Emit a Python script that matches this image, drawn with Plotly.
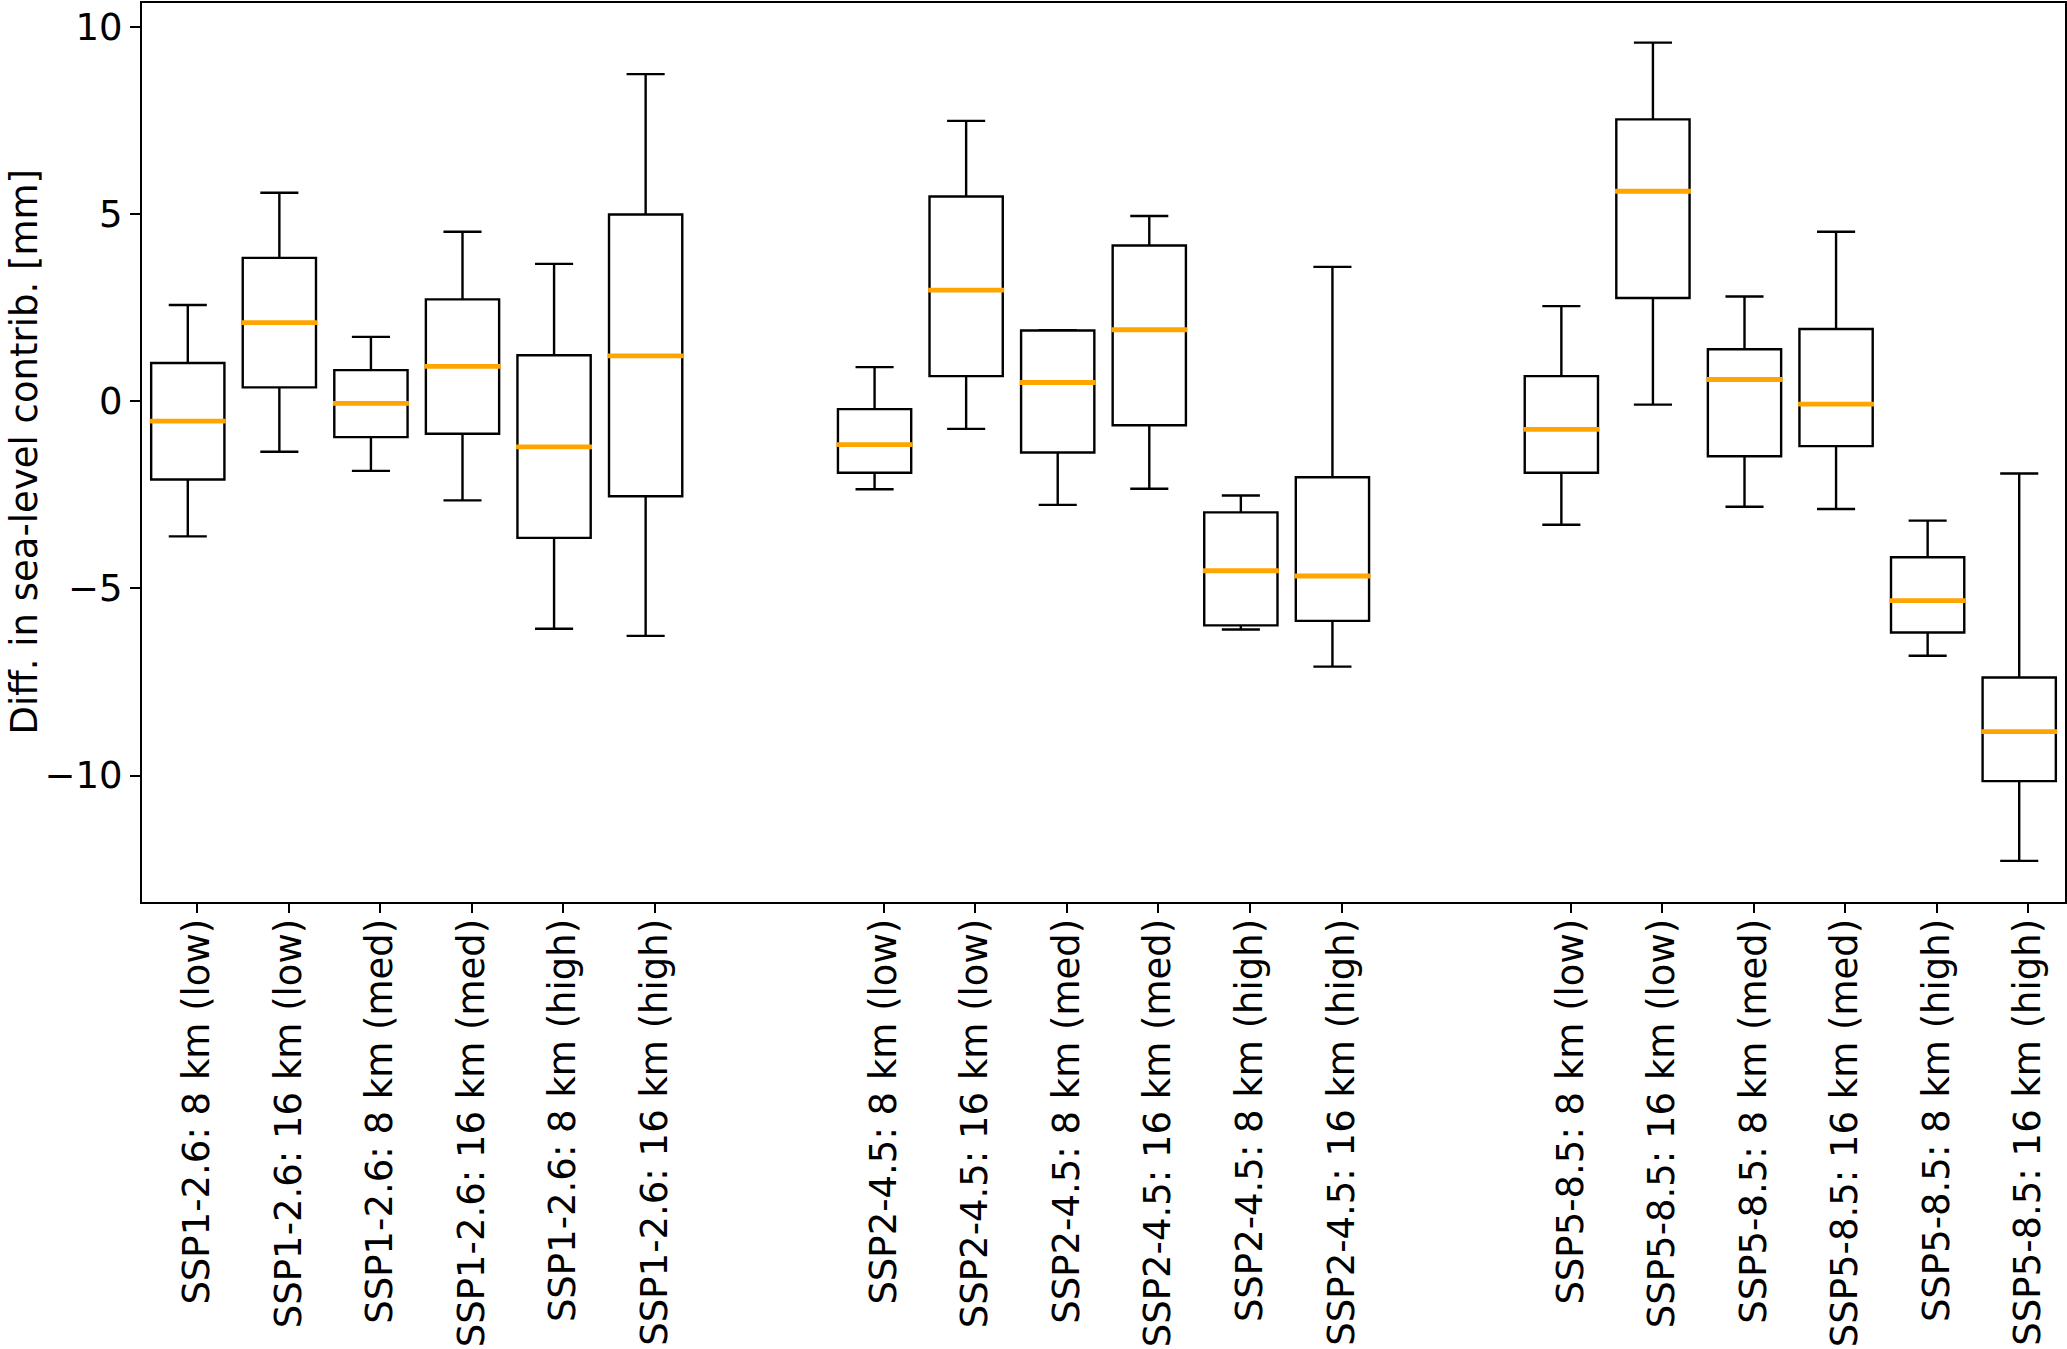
import plotly.graph_objects as go

labels = [
    "SSP1-2.6: 8 km (low)", "SSP1-2.6: 16 km (low)", "SSP1-2.6: 8 km (med)",
    "SSP1-2.6: 16 km (med)", "SSP1-2.6: 8 km (high)", "SSP1-2.6: 16 km (high)",
    "SSP2-4.5: 8 km (low)", "SSP2-4.5: 16 km (low)", "SSP2-4.5: 8 km (med)",
    "SSP2-4.5: 16 km (med)", "SSP2-4.5: 8 km (high)", "SSP2-4.5: 16 km (high)",
    "SSP5-8.5: 8 km (low)", "SSP5-8.5: 16 km (low)", "SSP5-8.5: 8 km (med)",
    "SSP5-8.5: 16 km (med)", "SSP5-8.5: 8 km (high)", "SSP5-8.5: 16 km (high)",
]
positions = [1, 2, 3, 4, 5, 6,
             8.5, 9.5, 10.5, 11.5, 12.5, 13.5,
             16, 17, 18, 19, 20, 21]
tick_offset = 0.1
y_title = "Diff. in sea-level contrib. [mm]"

whisker_low = [-3.61, -1.35, -1.86, -2.65, -6.08, -6.27,
               -2.35, -0.74, -2.77, -2.34, -6.10, -7.09,
               -3.30, -0.09, -2.82, -2.88, -6.80, -12.28]
q1 = [-2.09, 0.37, -0.96, -0.87, -3.65, -2.54,
      -1.91, 0.67, -1.37, -0.64, -5.99, -5.87,
      -1.91, 2.76, -1.47, -1.20, -6.18, -10.15]
median = [-0.53, 2.10, -0.06, 0.93, -1.22, 1.21,
          -1.16, 2.97, 0.50, 1.91, -4.53, -4.67,
          -0.75, 5.61, 0.58, -0.08, -5.33, -8.83]
q3 = [1.02, 3.83, 0.83, 2.72, 1.23, 4.99,
      -0.21, 5.47, 1.89, 4.16, -2.97, -2.03,
      0.67, 7.53, 1.39, 1.93, -4.17, -7.38]
whisker_high = [2.57, 5.57, 1.72, 4.53, 3.67, 8.74,
                0.91, 7.49, 1.90, 4.95, -2.52, 3.59,
                2.54, 9.58, 2.80, 4.53, -3.19, -1.93]

box_width = 0.8
font_family = "DejaVu Sans"
font_size = 37

W, H = 2067, 1349
ML, MR, MT, MB = 142, 2, 3, 447

fig = go.Figure()
fig.add_trace(go.Box(
    x=positions, q1=q1, median=median, q3=q3,
    lowerfence=whisker_low, upperfence=whisker_high,
    width=box_width, whiskerwidth=0.52,
    fillcolor="rgba(0,0,0,0)",
    line=dict(color="black", width=2.4),
    boxpoints=False, showlegend=False,
))

mx, my = [], []
for p, m in zip(positions, median):
    mx += [p - box_width / 2 - 0.015, p + box_width / 2 + 0.015, None]
    my += [m, m, None]
fig.add_trace(go.Scatter(
    x=mx, y=my, mode="lines",
    line=dict(color="#FFA500", width=4.8),
    showlegend=False, hoverinfo="skip",
))

fig.update_layout(
    width=W, height=H,
    template="none",
    paper_bgcolor="white", plot_bgcolor="white",
    margin=dict(l=ML, r=MR, t=MT, b=MB, autoexpand=False),
    font=dict(family=font_family, size=font_size, color="black"),
    showlegend=False,
)
fig.add_annotation(
    text=y_title, textangle=-90, showarrow=False,
    xref="paper", yref="paper",
    x=(24 - ML) / (W - ML - MR), y=0.5,
    xanchor="center", yanchor="middle",
    font=dict(family=font_family, size=font_size, color="black"),
)
fig.update_xaxes(
    range=[0.5, 21.5],
    tickmode="array", tickvals=[p + tick_offset for p in positions], ticktext=labels,
    tickangle=-90,
    ticks="outside", ticklen=9, tickwidth=2, tickcolor="black",
    ticklabelstandoff=-9,
    showline=True, linecolor="black", linewidth=2, mirror=True,
    showgrid=False, zeroline=False, automargin=False,
    tickfont=dict(family=font_family, size=font_size),
)
fig.update_yaxes(
    range=[-13.38, 10.64],
    tickmode="array", tickvals=[-10, -5, 0, 5, 10],
    ticktext=["\u221210", "\u22125", "0", "5", "10"],
    ticks="outside", ticklen=10, tickwidth=2, tickcolor="black",
    showline=True, linecolor="black", linewidth=2, mirror=True,
    showgrid=False, zeroline=False, automargin=False,
    tickfont=dict(family=font_family, size=font_size),
)

fig.write_html("out.html", config={"displayModeBar": False},
               post_script="document.body.style.margin='0';document.body.style.padding='0';")
